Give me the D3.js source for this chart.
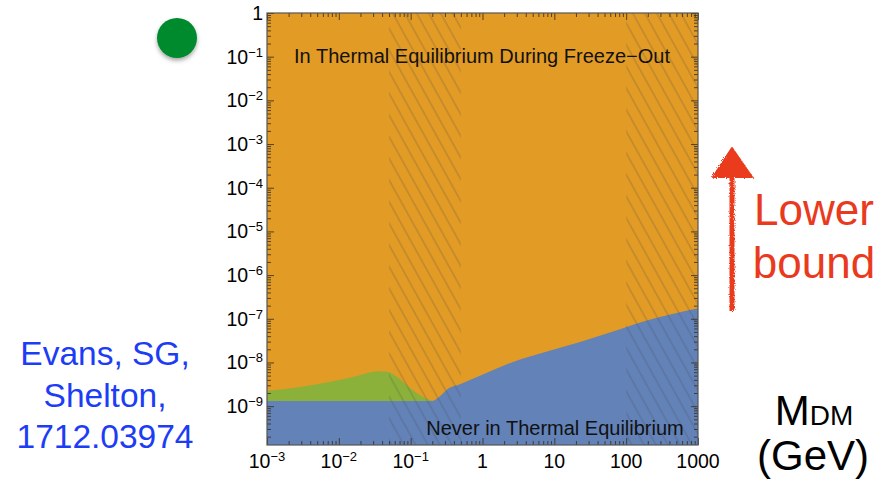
<!DOCTYPE html>
<html>
<head>
<meta charset="utf-8">
<script src="https://cdn.jsdelivr.net/npm/d3@7"></script>
<style>
  html, body { margin: 0; padding: 0; background: #fff; }
  svg { display: block; font-family: "Liberation Sans", Arial, Helvetica, sans-serif; }
</style>
</head>
<body>
<svg width="894" height="482"></svg>
<script>
// thermal equilibrium regions vs dark matter mass (log-log)
const xDomain = [1e-3, 1e3];
const yDomain = [1.29e-10, 1];

// x tick labels (decade exponents) and y tick exponents
const xExponents = [-3, -2, -1, 0, 1, 2, 3];
const yExponents = [0, -1, -2, -3, -4, -5, -6, -7, -8, -9];

// boundary of the "never in equilibrium" (blue) region
const blueMass = [0.001, 0.2, 0.256, 0.334, 0.486, 1.03, 2.66, 7.9, 22.8, 65.8, 195, 1000];
const blueTop = [1.32e-9, 1.32e-9, 1.69e-9, 2.53e-9, 3.18e-9, 5.4e-9, 1.03e-8, 1.78e-8, 2.95e-8, 5.1e-8, 9.1e-8, 1.74e-7];

// upper edge of the green band
const greenMass = [0.001, 0.0029, 0.0083, 0.0197, 0.0336, 0.0468, 0.0646, 0.088, 0.135, 0.19, 0.21];
const greenTop = [2.24e-9, 2.76e-9, 3.7e-9, 5.1e-9, 6.3e-9, 6.1e-9, 4.7e-9, 3.0e-9, 1.78e-9, 1.37e-9, 1.32e-9];

// hatched mass ranges
const hatchBands = [[0.05, 0.5], [100, 1000]];

const svg = d3.select('svg');
const pLeft = 267, pRight = 698, pTop = 13, pBottom = 445;

const x = d3.scaleLog().domain(xDomain).range([pLeft, pRight]);
const y = d3.scaleLog().domain(yDomain).range([pBottom, pTop]);

const defs = svg.append('defs');
defs.append('clipPath').attr('id', 'plotclip')
  .append('rect').attr('x', pLeft).attr('y', pTop)
  .attr('width', pRight - pLeft).attr('height', pBottom - pTop);

const pat = defs.append('pattern')
  .attr('id', 'hatch')
  .attr('patternUnits', 'userSpaceOnUse')
  .attr('width', 10.5).attr('height', 20)
  .attr('patternTransform', 'rotate(-29)');
pat.append('line')
  .attr('x1', 1).attr('y1', 0).attr('x2', 1).attr('y2', 20)
  .attr('stroke', 'rgba(70,70,70,0.42)')
  .attr('stroke-width', 0.85);

// rough crayon look for the arrow
const rough = defs.append('filter').attr('id', 'rough')
  .attr('x', '-20%').attr('y', '-20%').attr('width', '140%').attr('height', '140%');
rough.append('feTurbulence').attr('type', 'fractalNoise')
  .attr('baseFrequency', 0.9).attr('numOctaves', 2).attr('result', 'noise');
rough.append('feDisplacementMap').attr('in', 'SourceGraphic').attr('in2', 'noise')
  .attr('scale', 3.5);

const shadow = defs.append('filter').attr('id', 'shadow')
  .attr('x', '-50%').attr('y', '-50%').attr('width', '200%').attr('height', '200%');
shadow.append('feDropShadow').attr('dx', 0).attr('dy', 2.5)
  .attr('stdDeviation', 2).attr('flood-color', '#000').attr('flood-opacity', 0.35);

const plot = svg.append('g').attr('clip-path', 'url(#plotclip)');

// background: thermal equilibrium
plot.append('rect')
  .attr('x', pLeft).attr('y', pTop)
  .attr('width', pRight - pLeft).attr('height', pBottom - pTop)
  .attr('fill', '#e29b25');

const area = (xs, ys) => d3.area()
  .x((d, i) => x(xs[i]))
  .y0(y(yDomain[0]))
  .y1((d, i) => y(ys[i]))
  .curve(d3.curveMonotoneX)(xs);

plot.append('path')
  .attr('d', area(greenMass, greenTop))
  .attr('fill', '#8cb13a');

plot.append('path')
  .attr('d', area(blueMass, blueTop))
  .attr('fill', '#6282b8');

// hatched bands
plot.selectAll('rect.hatch')
  .data(hatchBands)
  .enter()
  .append('rect')
    .attr('class', 'hatch')
    .attr('x', d => x(d[0]))
    .attr('y', pTop)
    .attr('width', d => x(d[1]) - x(d[0]))
    .attr('height', pBottom - pTop)
    .attr('fill', 'url(#hatch)');

// region labels
svg.append('text')
  .attr('x', 482).attr('y', 63)
  .attr('text-anchor', 'middle')
  .attr('font-size', 20)
  .attr('fill', '#111')
  .text('In Thermal Equilibrium During Freeze\u2212Out');
svg.append('text')
  .attr('x', 555).attr('y', 435)
  .attr('text-anchor', 'middle')
  .attr('font-size', 20)
  .attr('fill', '#111')
  .text('Never in Thermal Equilibrium');

// ticks (major + minor, inward on every side)
const decadesX = d3.range(-3, 3);
const decadesY = d3.range(-10, 0);
const minorOf = decs => decs.flatMap(e => d3.range(2, 10).map(k => k * Math.pow(10, e)));
const xMinor = minorOf(decadesX).filter(v => v >= xDomain[0] && v <= xDomain[1]);
const yMinor = minorOf(decadesY).filter(v => v >= yDomain[0] && v <= yDomain[1]);
const xMajor = xExponents.map(e => Math.pow(10, e));
const yMajor = yExponents.map(e => Math.pow(10, e));

const tickAxis = (axis, pos, vals, size) => {
  const g = svg.append('g')
    .attr('transform', pos)
    .call(axis.tickValues(vals).tickSize(size).tickFormat(''));
  g.select('.domain').remove();
  g.selectAll('line').attr('stroke', '#3a3020').attr('stroke-opacity', 0.85);
};
tickAxis(d3.axisBottom(x), `translate(0,${pBottom})`, xMajor, -7);
tickAxis(d3.axisBottom(x), `translate(0,${pBottom})`, xMinor, -4);
tickAxis(d3.axisTop(x), `translate(0,${pTop})`, xMajor, -7);
tickAxis(d3.axisTop(x), `translate(0,${pTop})`, xMinor, -4);
tickAxis(d3.axisLeft(y), `translate(${pLeft},0)`, yMajor, -7);
tickAxis(d3.axisLeft(y), `translate(${pLeft},0)`, yMinor, -4);
tickAxis(d3.axisRight(y), `translate(${pRight},0)`, yMajor, -7);
tickAxis(d3.axisRight(y), `translate(${pRight},0)`, yMinor, -4);

// frame
svg.append('rect')
  .attr('x', pLeft).attr('y', pTop)
  .attr('width', pRight - pLeft).attr('height', pBottom - pTop)
  .attr('fill', 'none')
  .attr('stroke', '#555')
  .attr('stroke-width', 1.2);

// tick labels with superscript exponents
const powLabel = (sel, e) => {
  if (e === 0) { sel.text('1'); return; }
  if (e > 0) { sel.text(String(Math.pow(10, e))); return; }
  sel.append('tspan').text('10');
  sel.append('tspan').attr('dy', -7).attr('font-size', 13).text('\u2212' + (-e));
};
svg.append('g').selectAll('text')
  .data(xExponents)
  .enter()
  .append('text')
    .attr('x', d => x(Math.pow(10, d)))
    .attr('y', 468)
    .attr('text-anchor', 'middle')
    .attr('font-size', 19.5)
    .attr('fill', '#000')
    .each(function (d) { powLabel(d3.select(this), d); });
svg.append('g').selectAll('text')
  .data(yExponents)
  .enter()
  .append('text')
    .attr('x', 263)
    .attr('y', d => y(Math.pow(10, d)) + 7)
    .attr('text-anchor', 'end')
    .attr('font-size', 19.5)
    .attr('fill', '#000')
    .each(function (d) { powLabel(d3.select(this), d); });

// green dot
svg.append('circle')
  .attr('cx', 177).attr('cy', 38).attr('r', 20)
  .attr('fill', '#068a2f')
  .attr('filter', 'url(#shadow)');

// red hand-drawn arrow
const arrow = svg.append('g').attr('filter', 'url(#rough)').attr('fill', '#ea3a1e').attr('stroke', '#ea3a1e');
arrow.append('line')
  .attr('x1', 732).attr('y1', 311).attr('x2', 732).attr('y2', 172)
  .attr('stroke-width', 5);
arrow.append('path')
  .attr('d', 'M713,177 L732,148 L752,177 Z')
  .attr('stroke-width', 2)
  .attr('stroke-linejoin', 'round');

svg.append('text').attr('x', 814).attr('y', 225)
  .attr('text-anchor', 'middle').attr('font-size', 44).attr('fill', '#ea3a1e')
  .text('Lower');
svg.append('text').attr('x', 814).attr('y', 278)
  .attr('text-anchor', 'middle').attr('font-size', 44).attr('fill', '#ea3a1e')
  .text('bound');

// reference
const ref = ['Evans, SG,', 'Shelton,', '1712.03974'];
svg.append('g').selectAll('text')
  .data(ref)
  .enter()
  .append('text')
    .attr('x', 105)
    .attr('y', (d, i) => 365 + i * 41.5)
    .attr('text-anchor', 'middle')
    .attr('font-size', 33.5)
    .attr('fill', '#1d3cf5')
    .text(d => d);

// axis title
const mdm = svg.append('text').attr('x', 814).attr('y', 425)
  .attr('text-anchor', 'middle').attr('fill', '#000');
mdm.append('tspan').attr('font-size', 42).text('M');
mdm.append('tspan').attr('font-size', 28).text('DM');
svg.append('text').attr('x', 813).attr('y', 470)
  .attr('text-anchor', 'middle').attr('font-size', 42).attr('fill', '#000')
  .text('(GeV)');
</script>
</body>
</html>
